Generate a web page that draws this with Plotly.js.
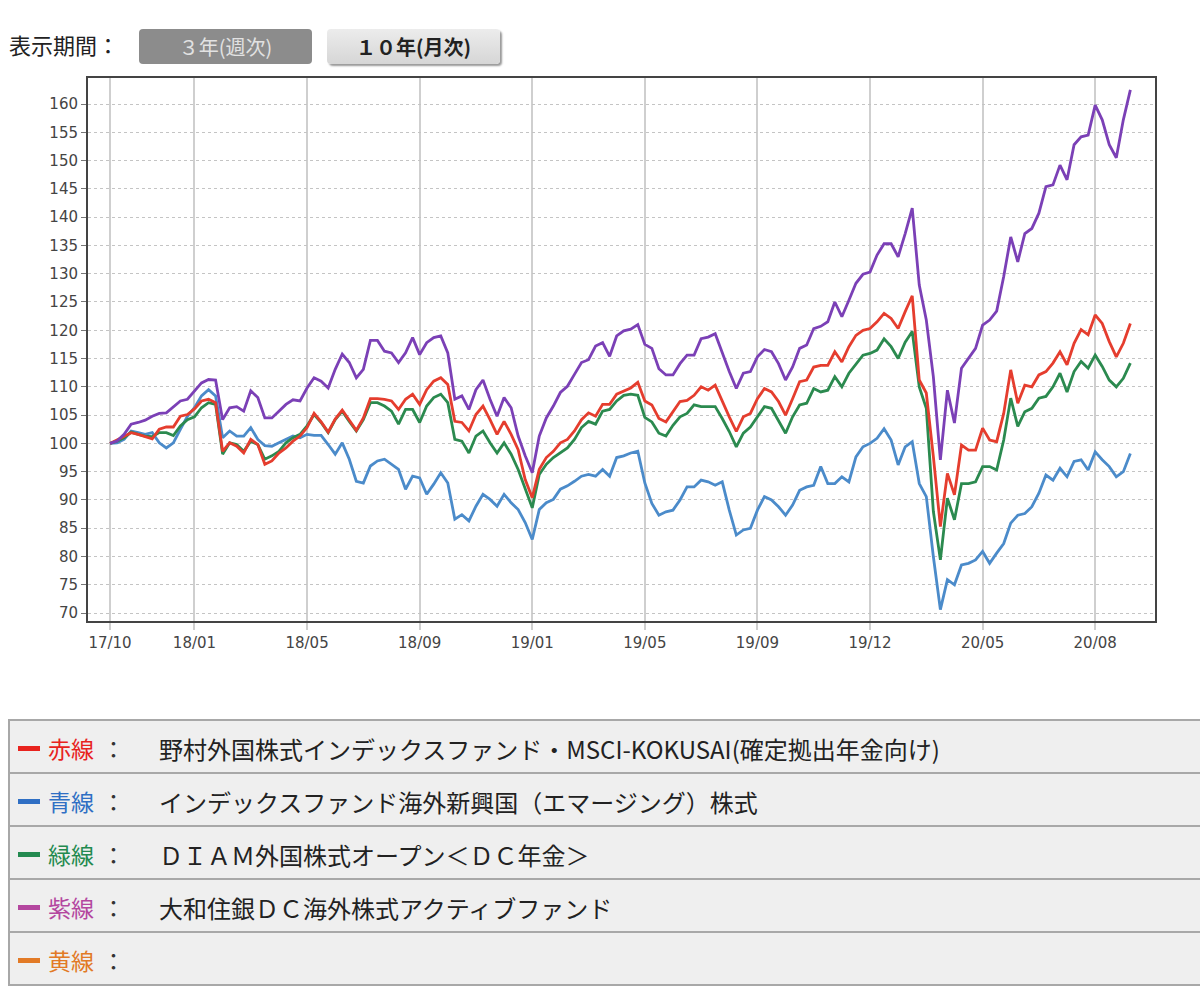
<!DOCTYPE html>
<html>
<head>
<meta charset="utf-8">
<script src="https://cdn.plot.ly/plotly-3.0.1.min.js"></script>
<style>
  body { margin: 0; background: #fff; font-family: "Noto Sans CJK JP", "Noto Sans", sans-serif; width: 1200px; height: 996px; overflow: hidden; position: relative; }
  #period { position: absolute; left: 9px; top: 28px; font-size: 22px; color: #222; }
  .btn { position: absolute; top: 29px; height: 35px; width: 173px; border-radius: 4px; font-size: 20px; text-align: center; line-height: 35px; }
  #btn3 { left: 139px; background: #8c8c8c; color: #e2e2e2; }
  #btn10 { left: 327px; background: linear-gradient(#ececec, #d6d6d6); color: #222; font-weight: bold; box-shadow: 2px 2px 2px #999; }
  #chart { position: absolute; left: 0; top: 60px; width: 1200px; height: 600px; }
  #legend { position: absolute; left: 8px; top: 719px; width: 1200px; border-collapse: collapse; }
  #legend td { background: #efefef; border: 2px solid #a8a8a8; height: 51px; padding: 0; font-size: 24px; color: #222; }
  .dash { display: inline-block; width: 22px; height: 5px; margin: 0 8px 0 8px; vertical-align: middle; }
  .lab { display: inline-block; width: 111px; font-size: 23px; vertical-align: middle; }
  .lab span { color: #333; margin-left: 8px; }
  .name { vertical-align: middle; }
</style>
</head>
<body>
<div id="period">表示期間：</div>
<div class="btn" id="btn3">３年(週次)</div>
<div class="btn" id="btn10">１０年(月次)</div>
<div id="chart"></div>
<table id="legend"></table>
<script>
// 週次の基準価額推移（開始=100）
var tickIdx = [0, 12, 28, 44, 60, 76, 92, 108, 124, 140];
var tickLabels = ['17/10', '18/01', '18/05', '18/09', '19/01', '19/05', '19/09', '19/12', '20/05', '20/08'];

var red = [100, 100.6, 101.3, 101.9, 101.6, 101.2, 100.8, 102.5, 102.9, 102.9,
  104.8, 105.1, 106.1, 107.5, 107.8, 107.2, 98.6, 100.1, 99.5, 98.3,
  100.7, 99.8, 96.3, 96.9, 98.3, 99.2, 100.4, 101.3, 102.8, 105.3,
  103.8, 102.0, 104.3, 105.9, 104.0, 102.3, 104.5, 107.9, 107.9, 107.8,
  107.5, 106.0, 107.8, 108.7, 106.9, 109.5, 111.0, 111.6, 110.4, 103.9,
  103.7, 102.2, 105.1, 106.6, 104.2, 101.6, 103.9, 101.6, 98.9, 93.6,
  90.4, 95.4, 97.5, 98.6, 100.1, 100.7, 102.2, 104.2, 105.4, 104.8,
  106.9, 106.9, 108.7, 109.3, 109.8, 110.8, 107.5, 106.8, 104.4, 103.8,
  105.6, 107.4, 107.6, 108.5, 110.0, 109.4, 110.3, 107.4, 104.7, 102.1,
  104.7, 105.3, 107.9, 109.7, 109.1, 107.4, 105.0, 107.9, 110.9, 111.2,
  113.5, 113.8, 113.8, 116.2, 114.4, 117.1, 119.1, 120.0, 120.3, 121.5,
  123.0, 122.1, 120.3, 123.3, 126.1, 111.2, 108.9, 97.7, 85.3, 94.7,
  90.9, 99.7, 98.8, 98.8, 102.7, 100.6, 100.3, 105.3, 113.0, 107.1,
  110.3, 110.0, 112.1, 112.7, 114.2, 116.2, 113.9, 117.7, 120.1, 119.2,
  122.7, 121.2, 118.0, 115.3, 117.7, 121.2];

var blue = [100, 100.1, 100.7, 102.2, 101.9, 101.6, 101.9, 100.1, 99.2, 100.1,
  102.5, 104.8, 106.3, 108.4, 109.5, 108.4, 101.0, 102.2, 101.3, 101.3,
  102.8, 100.7, 99.6, 99.5, 100.1, 100.7, 101.3, 101.0, 101.6, 101.4,
  101.4, 99.8, 98.1, 100.1, 97.2, 93.3, 93.0, 96.0, 96.9, 97.2,
  96.3, 95.4, 91.9, 94.2, 93.9, 91.0, 92.8, 94.8, 93.0, 86.6,
  87.4, 86.3, 88.9, 91.0, 90.1, 88.9, 91.0, 89.5, 88.3, 86.0,
  83.0, 88.3, 89.5, 90.1, 91.9, 92.5, 93.3, 94.2, 94.5, 94.2,
  95.4, 94.2, 97.5, 97.8, 98.3, 98.6, 93.0, 89.4, 87.3, 87.9,
  88.2, 90.0, 92.3, 92.3, 93.5, 93.2, 92.6, 93.2, 88.2, 83.8,
  84.7, 85.0, 88.2, 90.6, 90.0, 88.8, 87.3, 89.1, 91.7, 92.3,
  92.6, 95.9, 92.9, 92.9, 94.1, 93.2, 97.6, 99.4, 100.0, 100.9,
  102.6, 100.6, 96.2, 99.4, 100.3, 92.9, 90.6, 80.0, 70.6, 75.9,
  75.0, 78.5, 78.8, 79.4, 80.9, 78.8, 80.6, 82.3, 85.9, 87.3,
  87.6, 88.8, 91.2, 94.4, 93.5, 95.6, 94.1, 96.8, 97.1, 95.3,
  98.5, 97.1, 95.9, 94.1, 95.0, 98.2];

var green = [100, 100.4, 101.0, 102.0, 101.6, 101.3, 101.2, 101.9, 101.9, 101.4,
  103.1, 104.2, 104.7, 106.3, 107.2, 106.9, 98.1, 100.1, 99.8, 98.6,
  100.4, 99.8, 97.2, 97.8, 98.6, 100.1, 101.0, 101.6, 103.1, 105.1,
  103.7, 101.9, 104.2, 105.7, 103.9, 102.2, 104.2, 107.2, 107.2, 106.6,
  105.7, 103.4, 106.0, 106.0, 103.7, 106.6, 108.1, 108.7, 107.2, 100.7,
  100.4, 98.3, 101.3, 102.2, 100.1, 98.3, 100.1, 98.1, 95.4, 91.9,
  88.6, 94.5, 96.3, 97.5, 98.3, 99.2, 100.7, 102.8, 103.9, 103.4,
  105.7, 106.0, 107.5, 108.5, 108.7, 108.5, 104.6, 103.8, 101.8, 101.3,
  103.2, 104.7, 105.3, 106.8, 106.5, 106.5, 106.5, 104.4, 102.1, 99.4,
  101.8, 102.9, 104.7, 106.5, 106.2, 104.1, 101.8, 104.7, 106.8, 107.1,
  109.7, 109.1, 109.4, 111.8, 110.0, 112.4, 114.1, 115.6, 115.9, 116.5,
  118.5, 117.1, 115.0, 117.9, 119.8, 110.0, 106.2, 88.0, 79.4, 90.3,
  86.5, 92.9, 92.9, 93.2, 95.9, 95.9, 95.3, 100.6, 108.0, 103.0,
  105.6, 106.2, 108.0, 108.3, 110.0, 112.4, 109.1, 112.7, 114.5, 113.3,
  115.6, 113.6, 111.2, 110.0, 111.5, 114.2];

var purple = [100, 100.4, 101.6, 103.4, 103.7, 104.1, 104.8, 105.3, 105.4, 106.5,
  107.5, 107.8, 109.3, 110.7, 111.3, 111.2, 104.2, 106.3, 106.5, 105.7,
  109.3, 108.1, 104.5, 104.5, 105.7, 106.9, 107.7, 107.5, 109.8, 111.6,
  111.0, 109.8, 113.1, 115.8, 114.3, 111.6, 113.1, 118.2, 118.2, 116.3,
  116.0, 114.3, 116.0, 118.7, 115.7, 117.8, 118.7, 119.0, 116.0, 107.8,
  108.4, 106.0, 109.5, 111.2, 107.8, 104.8, 108.1, 106.3, 101.3, 97.8,
  94.8, 101.3, 104.5, 106.6, 109.0, 110.1, 112.2, 114.3, 114.8, 117.2,
  117.8, 115.4, 119.0, 119.9, 120.2, 121.0, 117.5, 116.8, 113.2, 112.1,
  112.1, 114.1, 115.6, 115.6, 118.5, 118.8, 119.4, 115.9, 112.7, 109.7,
  112.4, 112.7, 115.3, 116.6, 116.2, 114.1, 111.2, 113.5, 116.8, 117.4,
  120.3, 120.7, 121.5, 125.0, 122.4, 125.3, 128.3, 129.9, 130.3, 133.3,
  135.3, 135.3, 133.0, 137.1, 141.6, 128.0, 121.8, 111.8, 97.1, 109.4,
  103.6, 113.3, 115.0, 116.8, 120.9, 121.8, 123.4, 129.5, 136.5, 132.1,
  137.1, 138.0, 140.7, 145.4, 145.7, 149.2, 146.6, 152.8, 154.2, 154.5,
  159.8, 157.2, 152.8, 150.5, 157.2, 162.5];

var lineColors = { red: '#e53d2e', blue: '#4b8bca', green: '#2b8a4f', purple: '#7b40b6' };

// 凡例
var legendKeys = ['赤線', '青線', '緑線', '紫線', '黄線'];
var legendColors = ['#e8231e', '#2f6fc4', '#238a50', '#b4479f', '#e27a26'];
var fundNames = [
  '野村外国株式インデックスファンド・MSCI-KOKUSAI(確定拠出年金向け)',
  'インデックスファンド海外新興国（エマージング）株式',
  'ＤＩＡＭ外国株式オープン＜ＤＣ年金＞',
  '大和住銀ＤＣ海外株式アクティブファンド',
  ''
];

function weekIndex(arr) {
  return arr.map(function (v, i) { return i; });
}

function mkTrace(values, color) {
  return {
    x: weekIndex(values),
    y: values,
    type: 'scatter',
    mode: 'lines',
    line: { color: color, width: 2.8 },
    hoverinfo: 'skip'
  };
}

// 紫が一番上になるよう描画順を揃える
var data = [
  mkTrace(blue, lineColors.blue),
  mkTrace(green, lineColors.green),
  mkTrace(red, lineColors.red),
  mkTrace(purple, lineColors.purple)
];

var tickFont = { family: 'DejaVu Sans', stretch: 'condensed', size: 15, color: '#444' };

var layout = {
  width: 1200,
  height: 600,
  margin: { l: 88, r: 45, t: 18, b: 39 },
  paper_bgcolor: 'rgba(0,0,0,0)',
  plot_bgcolor: '#fff',
  showlegend: false,
  hovermode: false,
  xaxis: {
    range: [-3.13, 148.5],
    tickvals: tickIdx,
    ticktext: tickLabels,
    showgrid: true,
    gridcolor: '#cfcfcf',
    gridwidth: 2,
    zeroline: false,
    ticks: 'outside',
    ticklen: 7,
    tickwidth: 2,
    tickcolor: '#cfcfcf',
    tickfont: tickFont,
    showline: true,
    linecolor: '#444',
    linewidth: 2,
    mirror: true,
    fixedrange: true
  },
  yaxis: {
    range: [68.6, 164.6],
    tickmode: 'linear',
    tick0: 70,
    dtick: 5,
    showgrid: true,
    gridcolor: '#c4c4c4',
    gridwidth: 1,
    griddash: 'dot',
    zeroline: false,
    ticks: 'outside',
    ticklen: 5,
    tickwidth: 1,
    tickcolor: '#777',
    tickfont: tickFont,
    showline: true,
    linecolor: '#444',
    linewidth: 2,
    mirror: true,
    fixedrange: true
  }
};

Plotly.newPlot('chart', data, layout, { displayModeBar: false, staticPlot: true });

var tbl = document.getElementById('legend');
legendKeys.forEach(function (k, i) {
  var tr = document.createElement('tr');
  var td = document.createElement('td');
  td.innerHTML = '<span class="dash" style="background:' + legendColors[i] + '"></span>' +
    '<span class="lab" style="color:' + legendColors[i] + '">' + k + '<span>：</span></span>' +
    '<span class="name">' + fundNames[i] + '</span>';
  tr.appendChild(td);
  tbl.appendChild(tr);
});
</script>
</body>
</html>
